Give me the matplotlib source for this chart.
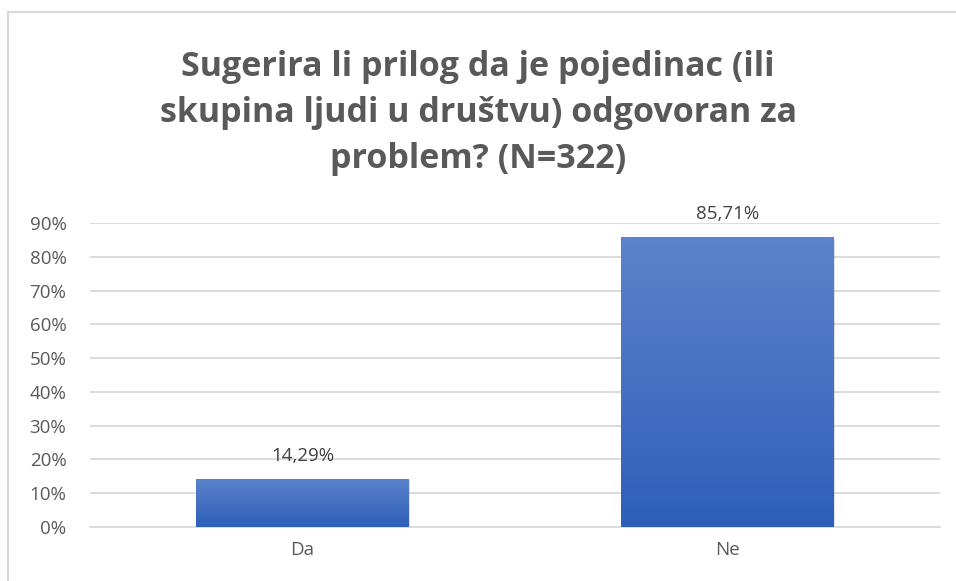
import numpy as np
import matplotlib.pyplot as plt
from matplotlib.patches import Rectangle
from matplotlib.colors import LinearSegmentedColormap

# data
categories = ["Da", "Ne"]
values = [14.29, 85.71]
labels = ["14,29%", "85,71%"]
yticks = [0, 10, 20, 30, 40, 50, 60, 70, 80, 90]

title = "Sugerira li prilog da je pojedinac (ili\nskupina ljudi u društvu) odgovoran za\nproblem? (N=322)"

plt.rcParams['font.family'] = ['Open Sans', 'DejaVu Sans']

fig = plt.figure(figsize=(9.56, 5.81), dpi=100)
fig.patch.set_facecolor("white")

# outer chart border
fig.add_artist(Rectangle((8 / 956, -0.01), 1.0, 1 - 12 / 581 + 0.01,
                         transform=fig.transFigure, fill=False,
                         edgecolor="#d9d9d9", linewidth=1.5))

fig.text(0.5, 1 - 113 / 581, title, ha="center", va="center", fontsize=24.5,
         fontweight="bold", color="#595959", linespacing=1.45)

ax = fig.add_axes([90 / 956, 1 - 527 / 581, 850 / 956, (527 - 223) / 581])
x = np.arange(len(categories))
bars = ax.bar(x, values, width=0.5, color="#4472c4", zorder=3)

# vertical gradient on bars
grad = np.linspace(0, 1, 256).reshape(-1, 1)
cmap = LinearSegmentedColormap.from_list("g", ["#2e5fb8", "#5c83cb"])
for b in bars:
    bx, by = b.get_x(), b.get_y()
    w, h = b.get_width(), b.get_height()
    im = ax.imshow(grad, cmap=cmap, aspect="auto", origin="lower",
                   extent=[bx, bx + w, by, by + h], zorder=4)
    im.set_clip_path(b)
    # soft shadow
    ax.add_patch(Rectangle((bx + 0.004, by - 0.4), w, h, facecolor="#000000",
                           alpha=0.12, zorder=2, linewidth=0))

for xi, v, lab in zip(x, values, labels):
    ax.text(xi, v + 4.2, lab, ha="center", va="bottom", fontsize=13.5,
            color="#404040", clip_on=False)

ax.set_xlim(-0.5, len(categories) - 0.5)
ax.set_ylim(0, 90)
ax.set_yticks(yticks)
ax.set_yticklabels([f"{t}%" for t in yticks])
ax.set_xticks(x)
ax.set_xticklabels(categories)
ax.tick_params(axis="both", length=0, labelsize=13.5, labelcolor="#595959")
ax.tick_params(axis="y", pad=17)
ax.tick_params(axis="x", pad=10)
ax.grid(axis="y", color="#d9d9d9", linewidth=1.3, zorder=0)
for s in ["top", "right", "left"]:
    ax.spines[s].set_visible(False)
ax.spines["bottom"].set_color("#d9d9d9")
ax.spines["bottom"].set_linewidth(1.3)

fig.savefig("out.png", dpi=100)
